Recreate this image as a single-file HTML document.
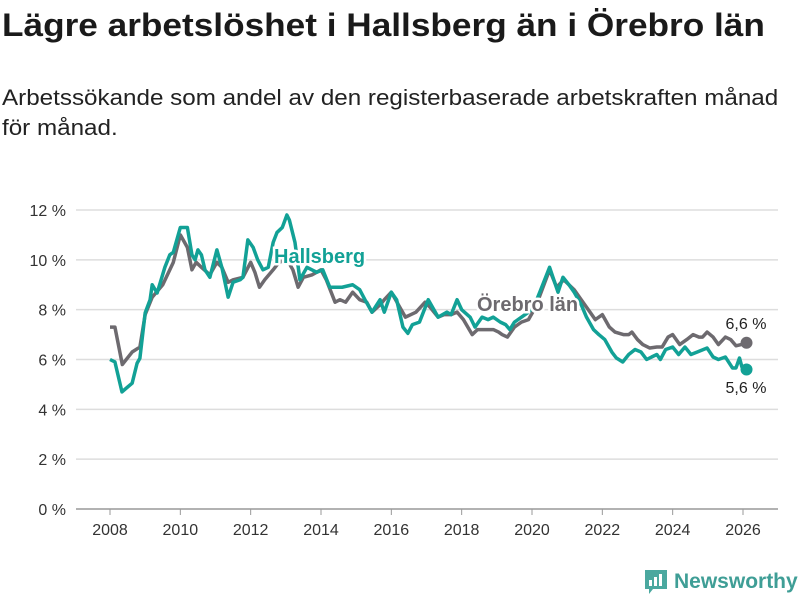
<!DOCTYPE html>
<html><head><meta charset="utf-8"><style>
body{margin:0;width:800px;height:600px;background:#fff;font-family:"Liberation Sans","DejaVu Sans",sans-serif;overflow:hidden;position:relative}
h1{position:absolute;left:2px;top:7px;margin:0;font-size:32px;font-weight:bold;color:#1a1a1a;transform-origin:0 0;transform:scaleX(1.1);white-space:nowrap}
.sub{position:absolute;left:2px;top:83px;font-size:22px;line-height:30px;color:#222;transform-origin:0 0;transform:scaleX(1.1);white-space:nowrap}
svg{position:absolute;left:0;top:0}
</style></head><body>
<h1>Lägre arbetslöshet i Hallsberg än i Örebro län</h1>
<div class="sub">Arbetssökande som andel av den registerbaserade arbetskraften månad<br>för månad.</div>
<svg id="c" width="800" height="600"></svg>
<script>
const yTicks=[0,2,4,6,8,10,12];
const xTicks=[2008,2010,2012,2014,2016,2018,2020,2022,2024,2026];
const hDates=[2008,2008.14,2008.34,2008.63,2008.77,2008.85,2009,2009.14,2009.2,2009.34,2009.56,2009.7,2009.8,2010,2010.2,2010.33,2010.42,2010.5,2010.6,2010.7,2010.84,2011.04,2011.18,2011.36,2011.5,2011.7,2011.78,2011.92,2012.07,2012.2,2012.35,2012.5,2012.64,2012.75,2012.9,2013.03,2013.1,2013.26,2013.4,2013.6,2013.88,2014.05,2014.25,2014.45,2014.6,2014.9,2015.1,2015.25,2015.45,2015.68,2015.8,2016,2016.15,2016.33,2016.47,2016.6,2016.8,2017.05,2017.33,2017.58,2017.7,2017.87,2018,2018.24,2018.38,2018.58,2018.75,2018.9,2019.1,2019.25,2019.37,2019.5,2019.7,2019.9,2020.05,2020.22,2020.5,2020.74,2020.88,2021.05,2021.2,2021.4,2021.55,2021.75,2021.9,2022.07,2022.27,2022.4,2022.58,2022.75,2022.93,2023.1,2023.26,2023.4,2023.55,2023.65,2023.8,2024,2024.17,2024.35,2024.52,2024.7,2024.98,2025.15,2025.3,2025.5,2025.7,2025.8,2025.9,2025.97,2026.1];
const hVals=[6.0,5.9,4.7,5.05,5.85,6.05,7.87,8.4,9.0,8.67,9.7,10.2,10.3,11.3,11.3,10.2,10.0,10.4,10.2,9.6,9.3,10.4,9.7,8.5,9.1,9.2,9.3,10.8,10.5,10.0,9.6,9.7,10.7,11.1,11.3,11.8,11.6,10.7,9.2,9.7,9.5,9.6,8.9,8.9,8.9,9.0,8.8,8.4,7.9,8.4,7.9,8.7,8.4,7.3,7.05,7.4,7.5,8.4,7.7,7.9,7.8,8.4,8.0,7.7,7.3,7.7,7.6,7.7,7.5,7.4,7.2,7.5,7.7,7.9,8.1,8.7,9.7,8.7,9.3,9.0,8.7,8.2,7.7,7.2,7.0,6.8,6.3,6.06,5.9,6.2,6.4,6.3,6.0,6.1,6.2,6.0,6.4,6.5,6.2,6.5,6.2,6.3,6.46,6.1,6.0,6.1,5.66,5.66,6.06,5.7,5.6];
const oDates=[2008,2008.14,2008.35,2008.63,2008.85,2009,2009.2,2009.5,2009.8,2010,2010.2,2010.33,2010.45,2010.6,2010.84,2011.04,2011.18,2011.36,2011.5,2011.78,2012,2012.12,2012.25,2012.4,2012.64,2012.75,2013,2013.2,2013.35,2013.5,2013.75,2014,2014.15,2014.4,2014.54,2014.7,2014.9,2015.1,2015.3,2015.45,2015.68,2015.8,2016,2016.2,2016.4,2016.55,2016.7,2016.96,2017.1,2017.33,2017.5,2017.7,2017.87,2018.05,2018.3,2018.45,2018.65,2018.9,2019.05,2019.15,2019.3,2019.5,2019.7,2019.9,2020.1,2020.5,2020.7,2020.9,2021.2,2021.4,2021.65,2021.8,2022,2022.2,2022.36,2022.6,2022.75,2022.84,2023,2023.15,2023.35,2023.55,2023.7,2023.87,2024,2024.2,2024.4,2024.58,2024.75,2024.85,2024.98,2025.15,2025.3,2025.5,2025.65,2025.8,2025.95,2026.1];
const oVals=[7.3,7.3,5.8,6.3,6.5,7.8,8.5,9.0,9.9,11.0,10.5,9.6,9.9,9.7,9.4,9.9,9.7,9.1,9.2,9.3,9.9,9.5,8.9,9.2,9.6,9.8,10.1,9.6,8.9,9.3,9.4,9.6,9.2,8.3,8.4,8.3,8.7,8.4,8.3,7.9,8.2,8.4,8.7,8.2,7.7,7.8,7.9,8.3,8.1,7.7,7.8,7.8,7.9,7.6,7.0,7.2,7.2,7.2,7.1,7.0,6.9,7.3,7.5,7.6,8.1,9.6,8.9,9.2,8.8,8.4,7.9,7.6,7.8,7.3,7.1,7.0,7.0,7.1,6.8,6.6,6.46,6.5,6.5,6.9,7.0,6.6,6.8,7.0,6.9,6.9,7.1,6.9,6.6,6.9,6.8,6.55,6.6,6.67];
const NS="http://www.w3.org/2000/svg";
const svg=document.getElementById('c');
const x=v=>110+(v-2008)*(633/18);
const y=v=>509-v*(299/12);
function mk(t,a,p){const e=document.createElementNS(NS,t);for(const k in a)e.setAttribute(k,a[k]);(p||svg).appendChild(e);return e;}
yTicks.forEach(t=>{
 const l=mk('line',{x1:76,x2:778,y1:y(t),y2:y(t),stroke:t===0?'#999':'#ddd','stroke-width':1.5});
 
 
 const tx=mk('text',{x:66,y:y(t)+6,'text-anchor':'end','font-size':16,fill:'#333'});
 tx.textContent=t+' %';
 
 
});
xTicks.forEach(t=>{
 const l=mk('line',{x1:x(t),x2:x(t),y1:509,y2:515,stroke:'#999'});
 
 
 const tx=mk('text',{x:x(t),y:535,'text-anchor':'middle','font-size':16,fill:'#333'});
 tx.textContent=t;
 
 
});
function line(d,v,col,name){
 const p=mk('polyline',{points:d.map((q,i)=>x(q)+','+y(v[i])).join(' '),fill:'none',stroke:col,'stroke-width':3.5,'stroke-linejoin':'round'});
 
 
 const c=mk('circle',{cx:x(d[d.length-1]),cy:y(v[v.length-1]),r:6,fill:col});
 
 
}
line(oDates,oVals,'#6d6a6f','orebro-line');
line(hDates,hVals,'#12a196','hallsberg-line');
function lbl(t,xx,yy,col,name,size,w,anchor){
 const tx=mk('text',{x:xx,y:yy,'font-size':size,'font-weight':w,fill:col,'text-anchor':anchor||'start',stroke:'#fff','stroke-width':w==='bold'?5:0,'paint-order':'stroke'});
 tx.textContent=t;
 
 
}
lbl('Hallsberg',274,263,'#12a196','hallsberg-label',20,'bold');
lbl('Örebro län',477,311,'#6d6a6f','orebro-label',20,'bold');
lbl('6,6 %',746,329,'#222','orebro-end-value',16,'normal','middle');
lbl('5,6 %',746,393,'#222','hallsberg-end-value',16,'normal','middle');
</script>
<div style="position:absolute;left:645px;top:570px;display:flex;align-items:center">
<svg width="22" height="24" viewBox="0 0 22 24" style="position:static"><path d="M0 0H22V19H8L4 24V19H0Z" fill="#4aa89f"/><rect x="4" y="10" width="3" height="6" fill="#fff"/><rect x="9" y="7" width="3" height="9" fill="#fff"/><rect x="14" y="4" width="3" height="12" fill="#fff"/></svg>
<span style="margin-left:7px;font-size:21px;color:#3f9e96;font-weight:bold">Newsworthy</span></div>
</body></html>
